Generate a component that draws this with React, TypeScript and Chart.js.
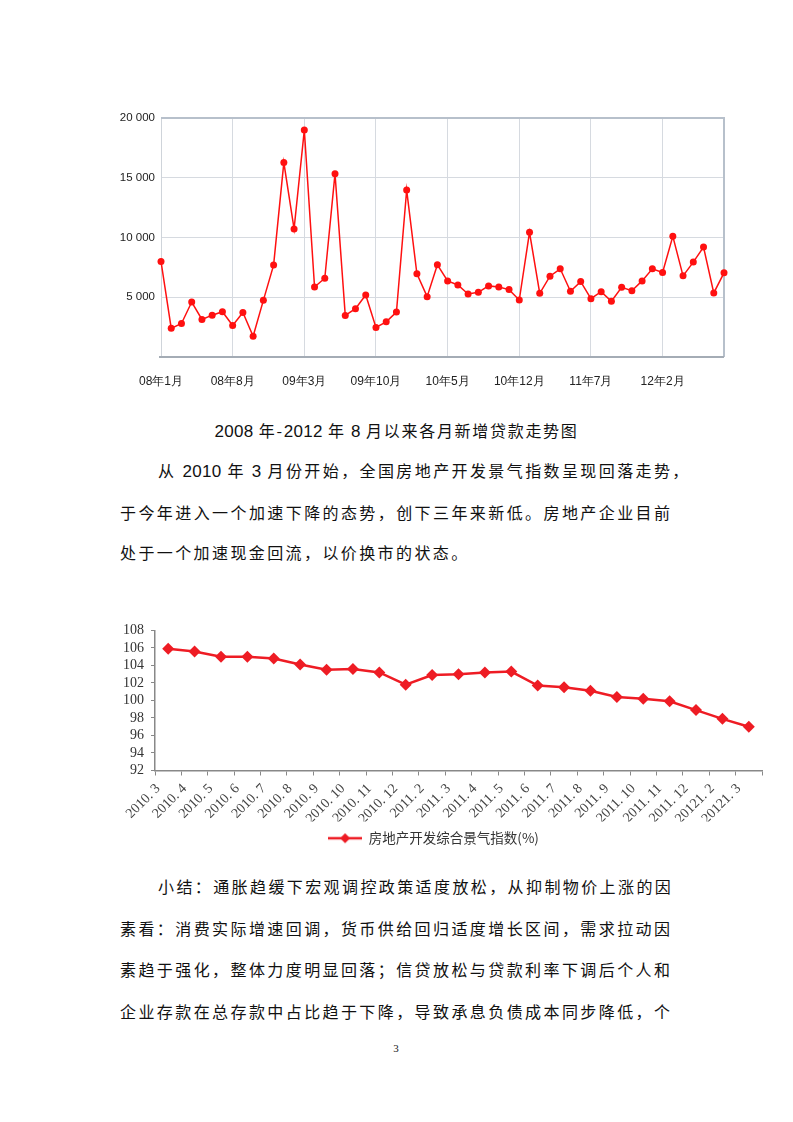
import React, { useEffect, useRef } from 'react';
import { Chart, registerables } from 'chart.js';

Chart.register(...registerables);

// ---------- Chart 1: monthly new loans 2008.1 - 2012.8 ----------
const loanMonths = [
  '08年1月', '08年2月', '08年3月', '08年4月', '08年5月', '08年6月', '08年7月', '08年8月', '08年9月', '08年10月', '08年11月', '08年12月',
  '09年1月', '09年2月', '09年3月', '09年4月', '09年5月', '09年6月', '09年7月', '09年8月', '09年9月', '09年10月', '09年11月', '09年12月',
  '10年1月', '10年2月', '10年3月', '10年4月', '10年5月', '10年6月', '10年7月', '10年8月', '10年9月', '10年10月', '10年11月', '10年12月',
  '11年1月', '11年2月', '11年3月', '11年4月', '11年5月', '11年6月', '11年7月', '11年8月', '11年9月', '11年10月', '11年11月', '11年12月',
  '12年1月', '12年2月', '12年3月', '12年4月', '12年5月', '12年6月', '12年7月', '12年8月',
];
const loanTickLabels = ['08年1月', '08年8月', '09年3月', '09年10月', '10年5月', '10年12月', '11年7月', '12年2月'];
const loanValues = [
  8000, 2400, 2800, 4600, 3140, 3500, 3790, 2640, 3730, 1740,
  4740, 7690, 16270, 10715, 18990, 5860, 6590, 15340, 3480, 4040,
  5190, 2470, 2945, 3760, 13970, 6960, 5050, 7710, 6370, 6030,
  5270, 5410, 5950, 5860, 5640, 4770, 10430, 5330, 6760, 7380,
  5500, 6310, 4880, 5470, 4660, 5830, 5550, 6370, 7380, 7070,
  10100, 6790, 7940, 9200, 5360, 7040,
];
const loanYMin = 0;
const loanYMax = 20000;
const loanYStep = 5000;

// ---------- Chart 2: real-estate development climate index ----------
const indexCategories = [
  '2010. 3', '2010. 4', '2010. 5', '2010. 6', '2010. 7', '2010. 8', '2010. 9', '2010. 10', '2010. 11', '2010. 12',
  '2011. 2', '2011. 3', '2011. 4', '2011. 5', '2011. 6', '2011. 7', '2011. 8', '2011. 9', '2011. 10', '2011. 11', '2011. 12',
  '20121. 2', '20121. 3',
];
const indexValues = [
  105.9, 105.6, 105.0, 105.0, 104.8, 104.1, 103.5, 103.6, 103.2, 101.8,
  102.9, 103.0, 103.2, 103.3, 101.7, 101.5, 101.1, 100.4, 100.2, 99.9, 98.9,
  97.9, 97.0,
];
const indexSeriesName = '房地产开发综合景气指数(%)';
const indexYMin = 92;
const indexYMax = 108;
const indexYStep = 2;

// ---------- Text ----------
const caption = '2008 年-2012 年 8 月以来各月新增贷款走势图';
const para1 = [
  '从 2010 年 3 月份开始，全国房地产开发景气指数呈现回落走势，',
  '于今年进入一个加速下降的态势，创下三年来新低。房地产企业目前',
  '处于一个加速现金回流，以价换市的状态。',
];
const para2 = [
  '小结：通胀趋缓下宏观调控政策适度放松，从抑制物价上涨的因',
  '素看：消费实际增速回调，货币供给回归适度增长区间，需求拉动因',
  '素趋于强化，整体力度明显回落；信贷放松与贷款利率下调后个人和',
  '企业存款在总存款中占比趋于下降，导致承息负债成本同步降低，个',
];

const RED = '#ff1010';

function LoanChart() {
  const ref = useRef<HTMLCanvasElement>(null);
  useEffect(() => {
    const frame = {
      id: 'frame',
      beforeDatasetsDraw(chart: any) {
        const { ctx, chartArea: a } = chart;
        ctx.save();
        ctx.strokeStyle = '#b7c0cb';
        ctx.lineWidth = 2;
        ctx.beginPath();
        ctx.moveTo(a.left, a.top);
        ctx.lineTo(a.right, a.top);
        ctx.lineTo(a.right, a.bottom);
        ctx.stroke();
        ctx.strokeStyle = '#a4acb5';
        ctx.beginPath();
        ctx.moveTo(a.left - 2, a.bottom);
        ctx.lineTo(a.right, a.bottom);
        ctx.stroke();
        ctx.restore();
      },
    };
    const chart = new Chart(ref.current!, {
      type: 'line',
      data: {
        labels: loanMonths,
        datasets: [
          {
            data: loanValues,
            borderColor: RED,
            backgroundColor: RED,
            borderWidth: 1.5,
            pointRadius: 3.5,
            pointBorderWidth: 0,
            pointBackgroundColor: RED,
            tension: 0,
          },
        ],
      },
      options: {
        animation: false,
        responsive: false,
        layout: { padding: { top: 18, right: 16, left: 0, bottom: 0 } },
        plugins: { legend: { display: false }, tooltip: { enabled: false } },
        scales: {
          x: {
            offset: false,
            grid: { color: '#d6dae0', lineWidth: 1, drawTicks: false },
            border: { display: false },
            ticks: {
              autoSkip: false,
              maxRotation: 0,
              minRotation: 0,
              padding: 17,
              color: '#222',
              font: { family: '"Liberation Sans", Arial, sans-serif', size: 12 },
              callback(this: any, v: any) {
                const l = loanMonths[v as number];
                return loanTickLabels.includes(l) ? l : null;
              },
            },
            afterFit(s: any) {
              s.height = 43;
            },
          },
          y: {
            min: loanYMin,
            max: loanYMax,
            grid: { color: '#d6dae0', lineWidth: 1, drawTicks: false },
            border: { display: true, color: '#cfd4da', width: 1 },
            ticks: {
              stepSize: loanYStep,
              autoSkip: false,
              padding: 6,
              color: '#222',
              font: { family: '"Liberation Sans", Arial, sans-serif', size: 11.5 },
              callback(v: any) {
                if (v === 0) return '';
                return String(v).replace(/\B(?=(\d{3})+(?!\d))/g, ' ');
              },
            },
            afterFit(s: any) {
              s.width = 51;
            },
          },
        },
      },
      plugins: [frame],
    });
    return () => chart.destroy();
  }, []);
  return (
    <canvas
      ref={ref}
      width={630}
      height={300}
      style={{ position: 'absolute', left: 110, top: 100, width: 630, height: 300 }}
    />
  );
}

function IndexChart() {
  const ref = useRef<HTMLCanvasElement>(null);
  useEffect(() => {
    const legendIcon = document.createElement('canvas');
    legendIcon.width = 34;
    legendIcon.height = 12;
    const c = legendIcon.getContext('2d')!;
    c.strokeStyle = '#ee1c24';
    c.lineWidth = 2.5;
    c.beginPath();
    c.moveTo(0, 6);
    c.lineTo(34, 6);
    c.stroke();
    c.fillStyle = '#ee1c24';
    c.beginPath();
    c.moveTo(17, 1);
    c.lineTo(22, 6);
    c.lineTo(17, 11);
    c.lineTo(12, 6);
    c.closePath();
    c.fill();

    const chart = new Chart(ref.current!, {
      type: 'line',
      data: {
        labels: indexCategories,
        datasets: [
          {
            label: indexSeriesName,
            data: indexValues,
            borderColor: '#ee1c24',
            backgroundColor: '#ee1c24',
            borderWidth: 2.5,
            pointStyle: 'rectRot',
            pointRadius: 6,
            pointBorderWidth: 0,
            pointBackgroundColor: '#ee1c24',
            tension: 0,
          },
        ],
      },
      options: {
        animation: false,
        responsive: false,
        layout: { padding: { top: 15, right: 13, left: 0, bottom: 0 } },
        plugins: {
          tooltip: { enabled: false },
          legend: {
            display: true,
            position: 'bottom',
            labels: {
              usePointStyle: true,
              pointStyle: legendIcon as any,
              pointStyleWidth: 34,
              padding: 10,
              color: '#333',
              font: { family: '"Noto Sans CJK SC", serif', size: 13.5 },
            },
          },
        },
        scales: {
          x: {
            offset: true,
            grid: {
              display: true,
              drawOnChartArea: false,
              drawTicks: true,
              tickLength: 5,
              color: '#888',
              offset: true,
            },
            border: { display: true, color: '#888', width: 1.5 },
            ticks: {
              autoSkip: false,
              minRotation: 45,
              maxRotation: 45,
              padding: 5,
              labelOffset: -10,
              color: '#444',
              font: { family: '"Liberation Serif", "Times New Roman", serif', size: 14 },
            },
            afterFit(s: any) {
              s.height = 51;
            },
          },
          y: {
            min: indexYMin,
            max: indexYMax,
            grid: {
              display: true,
              drawOnChartArea: false,
              drawTicks: true,
              tickLength: 4,
              color: '#888',
            },
            border: { display: true, color: '#888', width: 1.5 },
            ticks: {
              stepSize: indexYStep,
              autoSkip: false,
              padding: 7,
              color: '#333',
              font: { family: '"Liberation Serif", "Times New Roman", serif', size: 14 },
            },
            afterFit(s: any) {
              s.width = 50;
            },
          },
        },
      },
    });
    return () => chart.destroy();
  }, []);
  return (
    <canvas
      ref={ref}
      width={670}
      height={240}
      style={{ position: 'absolute', left: 105, top: 615, width: 670, height: 240 }}
    />
  );
}

const textFont = '"Noto Sans CJK SC", "Noto Sans", sans-serif';

function runs(text: string) {
  return text.split(/([0-9]+)/).map((seg, i) =>
    /^[0-9]+$/.test(seg) ? (
      <span key={i} style={{ letterSpacing: '0.3px', fontFamily: '"Liberation Sans", Arial, sans-serif', fontSize: 17 }}>
        {seg}
      </span>
    ) : (
      <React.Fragment key={i}>{seg}</React.Fragment>
    ),
  );
}

function Line({ text, left, center, justify }: { text: string; left: number; center: number; justify: boolean }) {
  const right = 670 + 2.4;
  return (
    <div
      style={{
        position: 'absolute',
        left,
        top: center - 12,
        width: right - left,
        height: 24,
        lineHeight: '24px',
        fontSize: 16,
        fontFamily: textFont,
        letterSpacing: '2.4px',
        color: '#111',
        whiteSpace: 'nowrap',
        textAlign: justify ? 'justify' : 'left',
        textAlignLast: justify ? 'justify' : 'left',
      } as any}
    >
      {runs(text)}
    </div>
  );
}

export default function App() {
  const p1Centers = [470, 512, 552];
  const p2Centers = [886, 928, 969, 1011];
  return (
    <div
      style={{
        position: 'absolute',
        left: 0,
        top: 0,
        width: 793,
        height: 1122,
        background: '#fff',
        overflow: 'hidden',
      }}
    >
      <LoanChart />
      <div
        style={{
          position: 'absolute',
          left: 0,
          top: 418,
          width: 793,
          textAlign: 'center',
          fontSize: 16,
          lineHeight: '24px',
          fontFamily: textFont,
          letterSpacing: '1.7px',
          color: '#111',
        }}
      >
        {runs(caption)}
      </div>
      {para1.map((t, i) => (
        <Line key={'a' + i} text={t} left={i === 0 ? 158 : 120} center={p1Centers[i]} justify={i < para1.length - 1} />
      ))}
      <IndexChart />
      {para2.map((t, i) => (
        <Line key={'b' + i} text={t} left={i === 0 ? 158 : 120} center={p2Centers[i]} justify={true} />
      ))}
      <div
        style={{
          position: 'absolute',
          left: 380,
          top: 1040,
          width: 32,
          textAlign: 'center',
          fontSize: 11,
          lineHeight: '16px',
          fontFamily: '"Liberation Serif", serif',
          color: '#222',
        }}
      >
        3
      </div>
    </div>
  );
}
